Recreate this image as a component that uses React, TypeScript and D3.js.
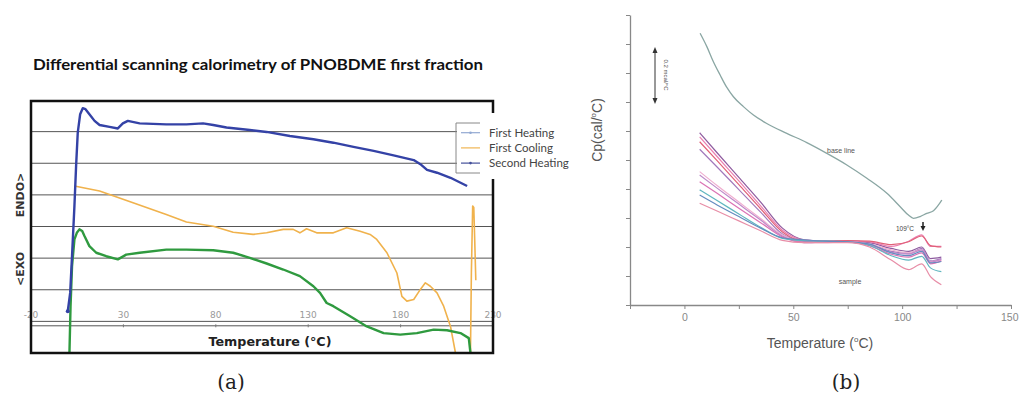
import React, { useRef, useEffect } from "react";
import * as d3 from "d3";

// ---- (a) DSC of PNOBDME first fraction ----
const tempTicksA = [-20, 30, 80, 130, 180, 230];
const gridLevelsA = [1, 2, 3, 4, 5, 6, 7];
const axisLevelA = 0.86;

const secondHeating: [number, number][] = [
  [-0.1, 1.32], [1.2, 1.9], [2.2, 3.06], [3.5, 4.65], [4.4, 5.91], [5.3, 6.97],
  [6.6, 7.55], [8.0, 7.74], [9.5, 7.71], [11.6, 7.55], [14.4, 7.34], [17.1, 7.21],
  [22.5, 7.15], [27.0, 7.1], [29.7, 7.26], [32.4, 7.34], [38.8, 7.26], [53.2, 7.23],
  [64.1, 7.23], [73.1, 7.26], [78.6, 7.21], [85.8, 7.13], [98.4, 7.05], [107.5, 6.99],
  [120.1, 6.86], [132.8, 6.76], [143.6, 6.65], [154.5, 6.52], [165.4, 6.39],
  [176.2, 6.25], [187.1, 6.1], [190.7, 5.97], [194.3, 5.79], [199.7, 5.7],
  [207.0, 5.54], [216.0, 5.28],
];

const firstCooling: [number, number][] = [
  [3.5, 5.28], [17.1, 5.12], [35.2, 4.75], [53.2, 4.38], [64.1, 4.14], [78.6, 4.01],
  [89.4, 3.82], [100.2, 3.75], [107.5, 3.8], [116.5, 3.91], [121.9, 3.91],
  [125.5, 3.8], [129.1, 3.93], [134.6, 3.8], [143.6, 3.8], [150.8, 3.96],
  [158.1, 3.85], [163.5, 3.75], [167.1, 3.59], [172.6, 3.17], [178.0, 2.53],
  [180.7, 1.79], [183.4, 1.64], [187.1, 1.69], [190.7, 2.01], [193.4, 2.22],
  [196.1, 2.11], [199.7, 1.9], [203.3, 1.48], [207.0, 0.84], [209.7, 0.0],
  [210.2, -0.6], [217.4, -0.6], [217.8, 0.0], [218.3, 2.53], [219.0, 4.65],
  [219.6, 4.6], [220.1, 3.59], [220.7, 2.3],
];

const greenTrace: [number, number][] = [
  [0.8, -0.6], [0.8, 0.0], [1.4, 1.48], [2.2, 2.74], [3.5, 3.59], [4.8, 3.8],
  [6.2, 3.91], [7.7, 3.86], [9.0, 3.69], [11.6, 3.38], [15.3, 3.17], [20.7, 3.06],
  [27.0, 2.96], [31.5, 3.11], [38.8, 3.17], [53.2, 3.27], [64.1, 3.27], [78.6, 3.25],
  [89.4, 3.17], [98.4, 3.01], [107.5, 2.83], [116.5, 2.64], [125.5, 2.43],
  [132.8, 2.11], [136.4, 1.9], [140.0, 1.58], [143.6, 1.48], [152.7, 1.16],
  [161.7, 0.84], [170.8, 0.63], [179.8, 0.58], [188.8, 0.63], [197.9, 0.74],
  [205.1, 0.72], [212.4, 0.63], [216.9, 0.47], [217.8, 0.0], [218.0, -0.6],
];

const legendLabelsA = ["First Heating", "First Cooling", "Second Heating"];
const legendColorsA = ["#92a9d2", "#f0b552", "#44509a"];

// ---- (b) Cp vs temperature ----
const tempTicksB = [-25, 0, 25, 50, 75, 100, 125, 150];
const tempLabelsB = [0, 50, 100, 150];

const baseLine: [number, number][] = [
  [7.2, 9.37], [10.3, 8.91], [13.3, 8.39], [16.4, 7.93], [19.4, 7.51], [22.5, 7.18],
  [27.1, 6.84], [31.7, 6.55], [37.8, 6.26], [47.0, 5.92], [56.2, 5.6], [65.4, 5.23],
  [74.6, 4.83], [83.8, 4.37], [93.0, 3.85], [99.1, 3.39], [102.9, 3.1], [105.2, 2.99],
  [108.3, 3.05], [111.3, 3.16], [114.4, 3.25], [116.7, 3.45], [118.2, 3.62],
];

const sampleTemps = [7, 15, 25, 35, 45, 55, 65, 75, 85, 95, 103, 109, 113, 118];
const run1 = [5.94, 5.25, 4.4, 3.55, 2.65, 2.25, 2.2, 2.2, 2.15, 1.95, 1.85, 2.0, 1.6, 1.65];
const run2 = [5.8, 5.12, 4.28, 3.42, 2.58, 2.24, 2.2, 2.2, 2.18, 2.02, 2.2, 2.42, 2.02, 2.02];
const run3 = [5.63, 4.98, 4.15, 3.32, 2.52, 2.2, 2.2, 2.22, 2.2, 2.08, 2.18, 2.38, 2.05, 2.0];
const run4 = [5.37, 4.76, 3.98, 3.2, 2.45, 2.2, 2.18, 2.18, 2.1, 1.85, 1.78, 1.95, 1.52, 1.6];
const run5 = [4.6, 4.12, 3.55, 2.98, 2.42, 2.15, 2.15, 2.18, 2.1, 1.9, 1.8, 1.9, 1.5, 1.55];
const run6 = [4.48, 4.03, 3.48, 2.93, 2.38, 2.15, 2.17, 2.17, 2.08, 1.82, 1.75, 1.9, 1.48, 1.58];
const run7 = [4.25, 3.85, 3.34, 2.84, 2.35, 2.17, 2.18, 2.18, 2.05, 1.75, 1.65, 1.8, 1.42, 1.52];
const run8 = [3.97, 3.6, 3.14, 2.68, 2.3, 2.22, 2.2, 2.18, 2.05, 1.7, 1.55, 1.68, 1.28, 1.15];
const run9 = [3.79, 3.45, 3.05, 2.65, 2.32, 2.25, 2.2, 2.18, 2.1, 1.8, 1.7, 1.85, 1.45, 1.5];
const run10 = [3.51, 3.24, 2.9, 2.56, 2.23, 2.15, 2.15, 2.15, 2.0, 1.55, 1.22, 1.42, 0.98, 0.7];
const sampleRuns = [run1, run2, run3, run4, run5, run6, run7, run8, run9, run10];
const runColors = [
  "#7b3f8f", "#e86aa5", "#dc4560", "#9262b0", "#eea0c8",
  "#b476c0", "#d65aa8", "#45aab5", "#4a78b5", "#e47a98",
];

export default function App() {
  const xAxisRef = useRef<SVGGElement>(null);
  const yAxisRef = useRef<SVGGElement>(null);

  const xA = d3.scaleLinear().domain([-20, 230]).range([31, 493]);
  const yA = d3.scaleLinear().domain([0, 8]).range([353, 100]);
  const xB = d3.scaleLinear().domain([-25, 150]).range([630, 1011]);
  const yB = d3.scaleLinear().domain([0, 10]).range([305, 15]);

  const lineA = d3
    .line<[number, number]>()
    .x((d) => xA(d[0]))
    .y((d) => yA(d[1]));
  const lineBase = d3
    .line<[number, number]>()
    .x((d) => xB(d[0]))
    .y((d) => yB(d[1]))
    .curve(d3.curveMonotoneX);
  const lineRun = d3
    .line<number>()
    .x((_, i) => xB(sampleTemps[i]))
    .y((d) => yB(d))
    .curve(d3.curveMonotoneX);

  useEffect(() => {
    const gx = d3.select(xAxisRef.current);
    gx.selectAll("*").remove();
    gx.call(
      d3
        .axisBottom(xB)
        .tickValues(tempTicksB)
        .tickSize(4)
        .tickSizeOuter(0)
        .tickPadding(5)
        .tickFormat((d) => (tempLabelsB.includes(+d) ? String(d) : ""))
    );
    gx.select(".domain").attr("stroke", "#888").attr("stroke-width", 1.3);
    gx.selectAll(".tick line").attr("stroke", "#888");
    gx.selectAll(".tick text")
      .attr("fill", "#888")
      .attr("font-size", 10.5)
      .attr("font-family", "'Liberation Sans', Arial, sans-serif");
    // last label sits at the page edge
    gx.selectAll<SVGGElement, number>(".tick")
      .filter((d) => d === 150)
      .select("text")
      .attr("text-anchor", "end")
      .attr("dx", 7);

    const gy = d3.select(yAxisRef.current);
    gy.selectAll("*").remove();
    gy.call(d3.axisLeft(yB).ticks(10).tickSize(4).tickSizeOuter(0).tickFormat(() => ""));
    gy.select(".domain").attr("stroke", "#888").attr("stroke-width", 1.3);
    gy.selectAll(".tick line").attr("stroke", "#888");
  }, []);

  const sans = "'Liberation Sans', Arial, sans-serif";

  return (
    <svg
      width={1019}
      height={394}
      style={{ position: "fixed", left: 0, top: 0, background: "#fff" }}
    >
      <defs>
        <clipPath id="plotA">
          <rect x={31} y={101} width={462} height={252} />
        </clipPath>
      </defs>

      {/* ---------- (a) ---------- */}
      <text
        x={258}
        y={70}
        textAnchor="middle"
        fontFamily="Lato, 'Open Sans', sans-serif"
        fontWeight="bold"
        fontSize={15}
        textLength={450}
        lengthAdjust="spacingAndGlyphs"
        fill="#111"
      >
        Differential scanning calorimetry of PNOBDME first fraction
      </text>

      {gridLevelsA.map((v) => (
        <line key={v} x1={31} x2={493} y1={yA(v)} y2={yA(v)} stroke="#555" strokeWidth={1} />
      ))}
      <line x1={31} x2={493} y1={yA(axisLevelA)} y2={yA(axisLevelA)} stroke="#555" strokeWidth={1} />
      {tempTicksA.slice(1, -1).map((t) => (
        <line key={t} x1={xA(t)} x2={xA(t)} y1={yA(axisLevelA) - 1.5} y2={yA(axisLevelA) + 1.5} stroke="#777" />
      ))}
      {tempTicksA.map((t) => (
        <text
          key={t}
          x={xA(t)}
          y={318}
          textAnchor="middle"
          fontFamily="'DejaVu Sans', sans-serif"
          fontSize={9}
          fill="#999"
        >
          {t}
        </text>
      ))}

      <g clipPath="url(#plotA)" fill="none" strokeLinejoin="round">
        <path d={lineA(firstCooling) ?? ""} stroke="#f0b24c" strokeWidth={1.6} />
        <path d={lineA(greenTrace) ?? ""} stroke="#2f9a3f" strokeWidth={2.4} />
        <path d={lineA(secondHeating) ?? ""} stroke="#3442a6" strokeWidth={2.4} />
      </g>
      <circle cx={xA(secondHeating[0][0])} cy={yA(secondHeating[0][1])} r={2} fill="#3442a6" />

      <rect x={31} y={101} width={462} height={252} fill="none" stroke="#111" strokeWidth={2.5} />

      {/* legend */}
      <rect x={457} y={113} width={45} height={66} fill="#fff" />
      <path d="M480,123H456V173H480" fill="none" stroke="#888" strokeWidth={1} />
      {legendLabelsA.map((lab, i) => {
        const y = 132.7 + i * 15.2;
        return (
          <g key={lab}>
            <line x1={461} x2={480} y1={y} y2={y} stroke={legendColorsA[i]} strokeWidth={1.2} />
            {i !== 1 && <circle cx={470.5} cy={y} r={1.3} fill={legendColorsA[i]} />}
            <text x={489} y={y + 4} fontFamily="Lato, 'Open Sans', sans-serif" fontSize={11.5} fill="#444">
              {lab}
            </text>
          </g>
        );
      })}

      <text
        transform="translate(23.5,195) rotate(-90)"
        textAnchor="middle"
        fontFamily="'DejaVu Sans', sans-serif"
        fontWeight="bold"
        fontSize={11}
        fill="#333"
      >
        ENDO&gt;
      </text>
      <text
        transform="translate(23.5,269) rotate(-90)"
        textAnchor="middle"
        fontFamily="'DejaVu Sans', sans-serif"
        fontWeight="bold"
        fontSize={11}
        fill="#333"
      >
        &lt;EXO
      </text>
      <text
        x={270}
        y={346}
        textAnchor="middle"
        fontFamily="'DejaVu Sans', sans-serif"
        fontWeight="bold"
        fontSize={12}
        textLength={123}
        lengthAdjust="spacingAndGlyphs"
        fill="#222"
      >
        Temperature (°C)
      </text>
      <text x={231} y={389} textAnchor="middle" fontFamily="'DejaVu Serif', serif" fontSize={20} fill="#222">
        (a)
      </text>

      {/* ---------- (b) ---------- */}
      <g ref={yAxisRef} transform="translate(630,0)" />
      <g ref={xAxisRef} transform="translate(0,305)" />

      <g fill="none" strokeWidth={1.2} strokeLinejoin="round" opacity={0.85}>
        {sampleRuns.map((r, i) => (
          <path key={i} d={lineRun(r) ?? ""} stroke={runColors[i]} />
        ))}
      </g>
      <path d={lineBase(baseLine) ?? ""} fill="none" stroke="#8aa6a3" strokeWidth={1.3} />

      {/* scale bar */}
      <line x1={655} x2={655} y1={51} y2={100} stroke="#333" strokeWidth={1} />
      <path d="M652.5,53L655,47L657.5,53Z" fill="#333" />
      <path d="M652.5,98L655,104L657.5,98Z" fill="#333" />
      <text
        transform="translate(664,75) rotate(90)"
        textAnchor="middle"
        fontFamily={sans}
        fontSize={6}
        fill="#555"
      >
        0.2 mcal/°C
      </text>

      <text x={841} y={153} textAnchor="middle" fontFamily={sans} fontSize={7} fill="#555">
        base line
      </text>
      <text x={850} y={284} textAnchor="middle" fontFamily={sans} fontSize={7} fill="#555">
        sample
      </text>
      <text x={905} y={231} textAnchor="middle" fontFamily={sans} fontSize={6.5} fill="#444">
        109°C
      </text>
      <line x1={923} x2={923} y1={222} y2={227} stroke="#222" strokeWidth={1.5} />
      <path d="M920.5,226L923,231L925.5,226Z" fill="#222" />

      <text x={820} y={348} textAnchor="middle" fontFamily={sans} fontSize={14} fill="#555">
        Temperature (<tspan fontSize={8} dy={-6}>o</tspan><tspan dy={6}>C)</tspan>
      </text>
      <text
        transform="translate(602,130) rotate(-90)"
        textAnchor="middle"
        fontFamily={sans}
        fontSize={14}
        fill="#555"
      >
        Cp(cal/<tspan fontSize={8} dy={-6}>o</tspan><tspan dy={6}>C)</tspan>
      </text>
      <text x={846} y={389} textAnchor="middle" fontFamily="'DejaVu Serif', serif" fontSize={20} fill="#222">
        (b)
      </text>
    </svg>
  );
}
